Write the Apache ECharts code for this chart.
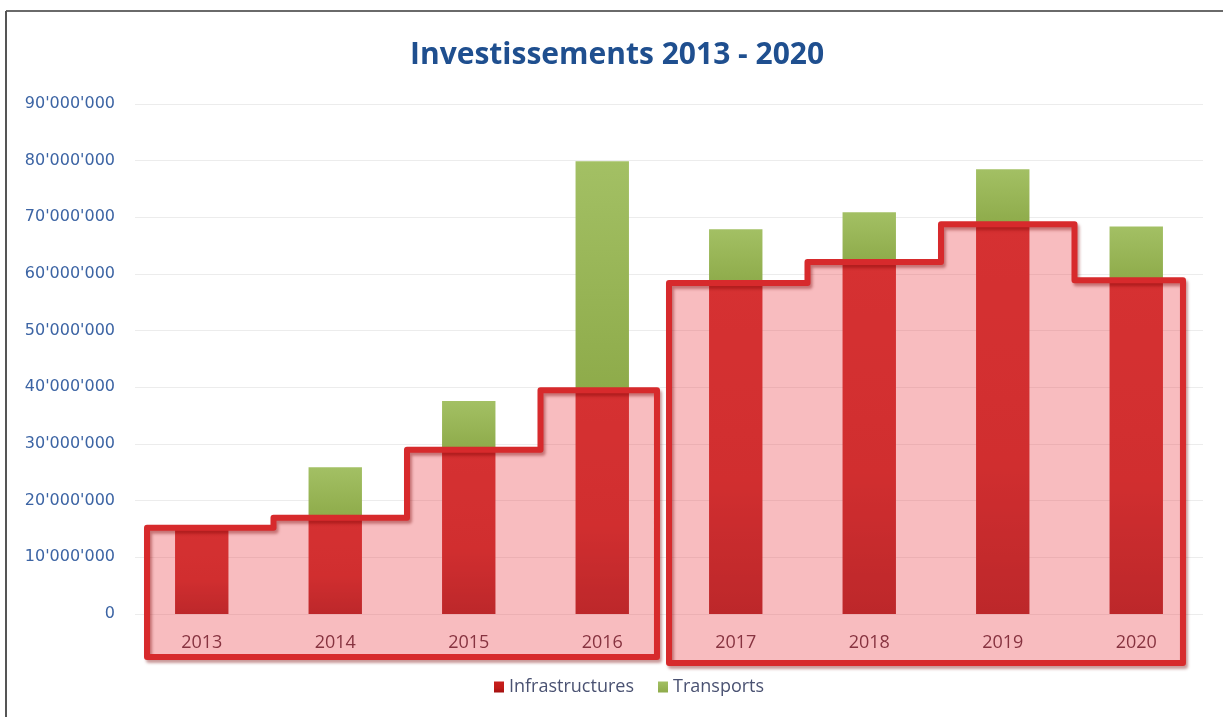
<!DOCTYPE html>
<html>
<head>
<meta charset="utf-8">
<script src="https://cdn.jsdelivr.net/npm/echarts@6/dist/echarts.min.js"></script>
<style>
html,body{margin:0;padding:0;background:#fff;}
#chart{width:1223px;height:717px;}
</style>
</head>
<body>
<div id="chart"></div>
<script>
// ---- data ----
const years = ['2013','2014','2015','2016','2017','2018','2019','2020'];
const infrastructures = [15200000, 17000000, 29000000, 39500000, 58400000, 62100000, 68800000, 58900000];
const transports = [0, 8900000, 8600000, 40400000, 9500000, 8800000, 9700000, 9500000];
const yTicks = [0, 10000000, 20000000, 30000000, 40000000, 50000000, 60000000, 70000000, 80000000, 90000000];
// highlighted groups (start index, end index)
const groups = [[0, 3], [4, 7]];

// ---- styles ----
const groupPad = [{l: 0.41, r: 0.41, b: 43}, {l: 0.50, r: 0.35, b: 49}];

function fmt(v) {
  return String(v).replace(/\B(?=(\d{3})+(?!\d))/g, "'");
}

const chart = echarts.init(document.getElementById('chart'));

const option = {
  backgroundColor: '#ffffff',
  animation: false,
  title: {
    text: 'Investissements 2013 - 2020',
    left: 405,
    top: 35,
    textStyle: {fontFamily: 'Open Sans', fontWeight: 'bold', fontSize: 30, color: '#1f4f8f'}
  },
  legend: {
    bottom: 16,
    left: 489,
    itemWidth: 10,
    itemHeight: 11,
    itemGap: 24,
    icon: 'rect',
    textStyle: {fontFamily: 'Open Sans', fontSize: 18, color: '#4a5272'},
    data: ['Infrastructures', 'Transports']
  },
  grid: {left: 135, right: 20, top: 104, bottom: 103, containLabel: false},
  xAxis: {
    type: 'category',
    data: years,
    axisLine: {show: false},
    axisTick: {show: false},
    axisLabel: {margin: 20, fontFamily: 'Open Sans', fontSize: 18, color: '#4a2333'}
  },
  yAxis: {
    type: 'value',
    min: 0,
    max: 90000000,
    interval: 10000000,
    axisLine: {show: false},
    axisTick: {show: false},
    splitLine: {lineStyle: {color: '#ececec', width: 1}},
    axisLabel: {
      margin: 20,
      fontFamily: 'DejaVu Sans',
      fontSize: 16,
      color: '#3c64a4',
      formatter: v => yTicks.indexOf(v) >= 0 ? fmt(v) : ''
    }
  },
  graphic: [
    {type: 'line', shape: {x1: 6, y1: 11, x2: 1223, y2: 11}, style: {stroke: '#6a6a6a', lineWidth: 2}, z: 0},
    {type: 'line', shape: {x1: 6, y1: 11, x2: 6, y2: 717}, style: {stroke: '#555', lineWidth: 2}, z: 0}
  ],
  series: [
    {
      name: 'Infrastructures',
      type: 'bar',
      stack: 'total',
      barWidth: '40%',
      data: infrastructures,
      itemStyle: {
        color: new echarts.graphic.LinearGradient(0, 0, 0, 1, [
          {offset: 0, color: '#c81f1c'},
          {offset: 0.6, color: '#c01b18'},
          {offset: 1, color: '#a01010'}
        ])
      }
    },
    {
      name: 'Transports',
      type: 'bar',
      stack: 'total',
      barWidth: '40%',
      data: transports,
      itemStyle: {
        color: new echarts.graphic.LinearGradient(0, 0, 0, 1, [
          {offset: 0, color: '#a3c064'},
          {offset: 1, color: '#8eab4a'}
        ])
      }
    },
    {
      name: 'overlay',
      type: 'custom',
      coordinateSystem: 'cartesian2d',
      z: 5,
      silent: true,
      encode: {x: [0, 1]},
      data: groups,
      renderItem: function (params, api) {
        const i0 = api.value(0), i1 = api.value(1);
        const pad = groupPad[params.dataIndex];
        const band = api.size([1, 0])[0];
        const base = api.coord([i0, 0])[1];
        const yb = base + pad.b;
        const pts = [];
        const xl = api.coord([i0, 0])[0] - band * pad.l;
        const xr = api.coord([i1, 0])[0] + band * pad.r;
        pts.push([xl, yb]);
        pts.push([xl, api.coord([i0, infrastructures[i0]])[1]]);
        for (let i = i0; i < i1; i++) {
          const xm = (api.coord([i, 0])[0] + api.coord([i + 1, 0])[0]) / 2 + 5;
          const y1 = api.coord([i, infrastructures[i]])[1];
          const y2 = api.coord([i + 1, infrastructures[i + 1]])[1];
          pts.push([xm, y1]);
          pts.push([xm, y2]);
        }
        pts.push([xr, api.coord([i1, infrastructures[i1]])[1]]);
        pts.push([xr, yb]);
        return {
          type: 'group',
          children: [
            {
              type: 'polygon',
              shape: {points: pts},
              style: {fill: 'rgba(236,78,88,0.38)', stroke: null}
            },
            {
              type: 'polygon',
              shape: {points: pts},
              style: {
                fill: null,
                stroke: '#d72a2c',
                lineWidth: 6,
                lineJoin: 'round',
                shadowBlur: 3,
                shadowOffsetX: 2,
                shadowOffsetY: 3,
                shadowColor: 'rgba(120,0,0,0.4)'
              }
            }
          ]
        };
      }
    }
  ]
};
chart.setOption(option);
</script>
</body>
</html>
